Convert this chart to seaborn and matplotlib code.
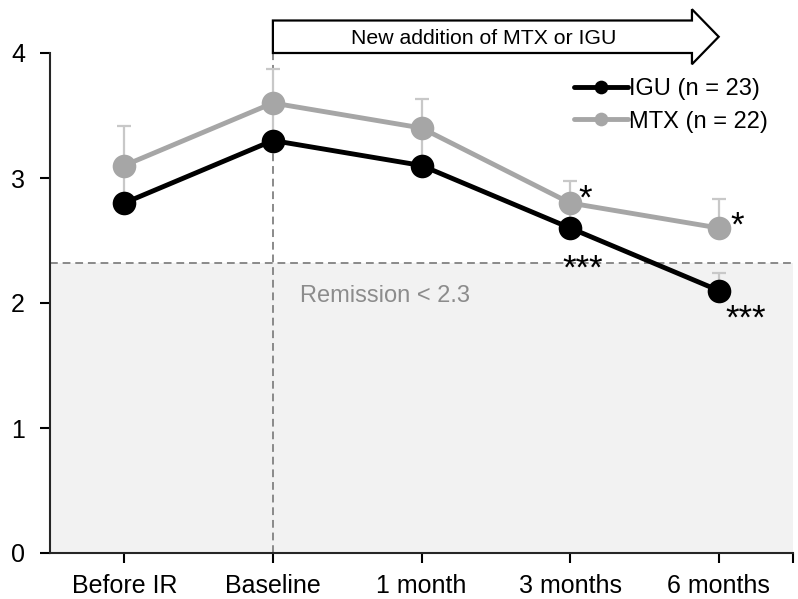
import numpy as np
import pandas as pd
import matplotlib
matplotlib.use("Agg")
import matplotlib.pyplot as plt
from matplotlib.patches import FancyArrow
import seaborn as sns

categories = ["Before IR", "Baseline", "1 month", "3 months", "6 months"]
igu_values = [2.8, 3.3, 3.1, 2.6, 2.1]
igu_err = [0.30, 0.30, 0.28, 0.20, 0.14]
mtx_values = [3.1, 3.6, 3.4, 2.8, 2.6]
mtx_err = [0.32, 0.27, 0.23, 0.18, 0.23]
series_labels = ["IGU (n = 23)", "MTX (n = 22)"]
remission_cut = 2.32
yticks = [0, 1, 2, 3, 4]
igu_stars = ["", "", "", "***", "***"]
mtx_stars = ["", "", "", "*", "*"]

sns.set_style("ticks")
plt.rcParams["font.family"] = ["Liberation Sans", "DejaVu Sans"]
plt.rcParams["text.color"] = "black"
plt.rcParams["xtick.labelcolor"] = "black"
plt.rcParams["ytick.labelcolor"] = "black"

pos = np.arange(len(categories))
df = pd.DataFrame({
    "x": np.concatenate([pos, pos]),
    "y": igu_values + mtx_values,
    "group": [series_labels[0]] * len(pos) + [series_labels[1]] * len(pos),
})

fig = plt.figure(figsize=(7.98, 5.99), dpi=100)
ax = fig.add_axes([50 / 798, 1 - 553 / 599, (793 - 50) / 798, (553 - 53) / 599])

ax.set_xlim(-0.5, 4.5)
ax.set_ylim(0, 4)

# remission zone
ax.axhspan(0, remission_cut, color="#f2f2f2", zorder=0, lw=0)
ax.axhline(remission_cut, color="#8a8a8a", ls=(0, (4, 2.5)), lw=1.4, zorder=1)
ax.plot([1, 1], [0, 4], color="#8a8a8a", ls=(0, (4, 2.5)), lw=1.4, zorder=1,
        clip_on=False)
ax.text(1.18, 2.06, "Remission < 2.3", color="#8c8c8c", fontsize=17,
        ha="left", va="center")

# error bars (upper only)
for vals, errs in [(igu_values, igu_err), (mtx_values, mtx_err)]:
    ax.errorbar(pos, vals, yerr=[np.zeros(len(errs)), errs], fmt="none",
                ecolor="#c8c8c8", elinewidth=1.6, capsize=5, capthick=1.6,
                zorder=2)

palette = {series_labels[0]: "#000000", series_labels[1]: "#a6a6a6"}
sns.lineplot(data=df, x="x", y="y", hue="group", palette=palette,
             marker="o", markersize=17, markeredgewidth=0, linewidth=3.5,
             sort=False, ax=ax, zorder=3, legend=True)

# stars (offsets in points, baseline-anchored)
mtx_off = {3: (10.8, -4.3), 4: (13, -5.8)}
igu_off = {3: (9.4, -36.7), 4: (19.4, -27.4)}
for i, s in enumerate(mtx_stars):
    if s:
        ax.annotate(s, (pos[i], mtx_values[i]), xytext=mtx_off[i],
                    textcoords="offset points", fontsize=25, ha="center",
                    va="baseline")
for i, s in enumerate(igu_stars):
    if s:
        ax.annotate(s, (pos[i], igu_values[i]), xytext=igu_off[i],
                    textcoords="offset points", fontsize=25, ha="center",
                    va="baseline")

# arrow above the plot
arr = FancyArrow(1, 4.13, 3.0, 0, width=0.26, head_width=0.44,
                 head_length=0.18, length_includes_head=True,
                 facecolor="white", edgecolor="black", lw=1.6,
                 clip_on=False, zorder=5)
ax.add_patch(arr)
ax.text(2.42, 4.12, "New addition of MTX or IGU", fontsize=15.3,
        ha="center", va="center", zorder=6, clip_on=False)

# axes styling
sns.despine(ax=ax)
ax.spines["left"].set_linewidth(1.5)
ax.spines["bottom"].set_linewidth(1.5)
ax.set_xticks(pos)
ax.set_xticklabels(categories, fontsize=18)
ax.set_xticks([4.5], minor=True)
ax.set_yticks(yticks)
ax.set_yticklabels([str(t) for t in yticks], fontsize=18)
ax.tick_params(axis="both", which="both", length=7, width=1.5, color="black")
ax.tick_params(axis="y", pad=11)
ax.tick_params(axis="x", pad=8)
ax.set_xlabel("")
ax.set_ylabel("")

handles, labels = ax.get_legend_handles_labels()
ax.legend(handles, labels, frameon=False, fontsize=17, loc="upper left",
          bbox_to_anchor=(574 / 798, 1 - 78 / 599),
          bbox_transform=fig.transFigure, borderpad=0, borderaxespad=0,
          handlelength=2.3, handletextpad=0.05, labelspacing=0.45,
          markerscale=0.58)

fig.savefig("out.png", dpi=100)
